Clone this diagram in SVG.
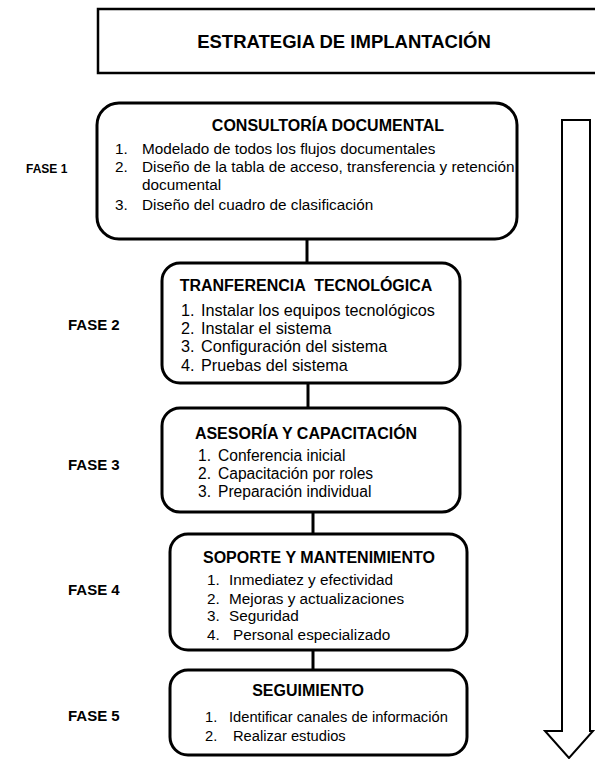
<svg xmlns="http://www.w3.org/2000/svg" width="595" height="759" viewBox="0 0 595 759">
<style>
.box{fill:#fff;stroke:#000;stroke-width:3}
.t{font-family:"Liberation Sans",Arial,sans-serif;fill:#000}
.h{font-size:16px;font-weight:bold}
.f{font-size:15px;font-weight:bold}
.c{stroke:#000;stroke-width:3;fill:none}
</style>
<rect width="595" height="759" fill="#fff"/>
<g id="title">
<rect x="98" y="9" width="510" height="64" fill="#fff" stroke="#000" stroke-width="2.5"/>
<text class="t" x="344" y="48" text-anchor="middle" font-size="18.5" font-weight="bold">ESTRATEGIA DE IMPLANTACIÓN</text>
</g>
<g id="arrow">
<path d="M562 120 H590 V731 H593 L569 758 L545 731 H562 Z" fill="#fff" stroke="#000" stroke-width="2"/>
</g>
<g id="connectors">
<line class="c" x1="307" y1="240" x2="307" y2="263"/>
<line class="c" x1="308" y1="383" x2="308" y2="408"/>
<line class="c" x1="313" y1="512" x2="313" y2="534"/>
<line class="c" x1="313" y1="650" x2="313" y2="670"/>
</g>
<g id="fase1"><text class="t" x="26" y="173" font-size="12" font-weight="bold">FASE 1</text></g>
<g id="fase2"><text class="t f" x="68" y="330">FASE 2</text></g>
<g id="fase3"><text class="t f" x="68" y="470">FASE 3</text></g>
<g id="fase4"><text class="t f" x="68" y="595">FASE 4</text></g>
<g id="fase5"><text class="t f" x="68" y="721">FASE 5</text></g>
<g id="box1" font-size="15.3">
<rect class="box" x="97" y="103" width="420" height="136" rx="22"/>
<text class="t h" x="328" y="131" text-anchor="middle">CONSULTORÍA DOCUMENTAL</text>
<text class="t" x="115" y="154">1.</text><text class="t" x="142" y="154">Modelado de todos los flujos documentales</text>
<text class="t" x="115" y="172">2.</text><text class="t" x="142" y="172">Diseño de la tabla de acceso, transferencia y retención</text>
<text class="t" x="142" y="190">documental</text>
<text class="t" x="115" y="210">3.</text><text class="t" x="142" y="210">Diseño del cuadro de clasificación</text>
</g>
<g id="box2" font-size="16.2">
<rect class="box" x="162" y="263" width="298" height="120" rx="18"/>
<text class="t h" x="306" y="291" text-anchor="middle" xml:space="preserve">TRANFERENCIA  TECNOLÓGICA</text>
<text class="t" x="181" y="316">1.</text><text class="t" x="201" y="316">Instalar los equipos tecnológicos</text>
<text class="t" x="181" y="334">2.</text><text class="t" x="201" y="334">Instalar el sistema</text>
<text class="t" x="181" y="352">3.</text><text class="t" x="201" y="352">Configuración del sistema</text>
<text class="t" x="181" y="371">4.</text><text class="t" x="201" y="371">Pruebas del sistema</text>
</g>
<g id="box3" font-size="15.6">
<rect class="box" x="162" y="408" width="298" height="104" rx="18"/>
<text class="t h" x="306" y="439" text-anchor="middle">ASESORÍA Y CAPACITACIÓN</text>
<text class="t" x="198" y="461">1.</text><text class="t" x="218" y="461">Conferencia inicial</text>
<text class="t" x="198" y="479">2.</text><text class="t" x="218" y="479">Capacitación por roles</text>
<text class="t" x="198" y="497">3.</text><text class="t" x="218" y="497">Preparación individual</text>
</g>
<g id="box4" font-size="15.3">
<rect class="box" x="170" y="534" width="297" height="116" rx="18"/>
<text class="t h" x="319" y="563" text-anchor="middle">SOPORTE Y MANTENIMIENTO</text>
<text class="t" x="207" y="585">1.</text><text class="t" x="229" y="585">Inmediatez y efectividad</text>
<text class="t" x="207" y="604">2.</text><text class="t" x="229" y="604">Mejoras y actualizaciones</text>
<text class="t" x="207" y="621">3.</text><text class="t" x="229" y="621">Seguridad</text>
<text class="t" x="207" y="640">4.</text><text class="t" x="233" y="640">Personal especializado</text>
</g>
<g id="box5" font-size="14.7">
<rect class="box" x="170" y="670" width="297" height="85" rx="18"/>
<text class="t h" x="308" y="696" text-anchor="middle">SEGUIMIENTO</text>
<text class="t" x="205" y="722">1.</text><text class="t" x="229" y="722">Identificar canales de información</text>
<text class="t" x="205" y="741">2.</text><text class="t" x="233" y="741">Realizar estudios</text>
</g>
</svg>
